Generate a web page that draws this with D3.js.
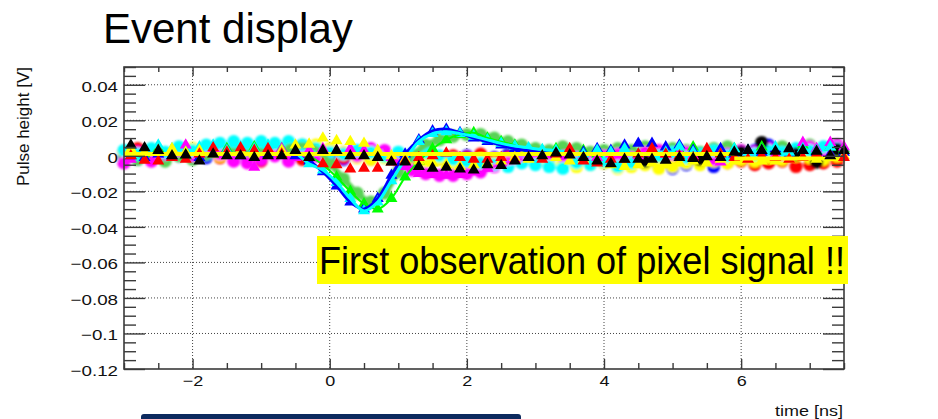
<!DOCTYPE html>
<html>
<head>
<meta charset="utf-8">
<script src="https://cdn.jsdelivr.net/npm/d3@7"></script>
<style>
  html, body { margin: 0; padding: 0; background: #fff; }
  svg { display: block; font-family: "Liberation Sans", Arial, Helvetica, sans-serif; }
</style>
</head>
<body>
<svg id="chart" width="938" height="419"></svg>
<script>
// Sample times [ns] of the triangle-marker waveforms
const timesTri = [-2.9, -2.7, -2.5, -2.3, -2.1, -1.9, -1.7, -1.5, -1.3, -1.1,
  -0.9, -0.7, -0.5, -0.3, -0.1, 0.1, 0.3, 0.5, 0.7, 0.9,
  1.1, 1.3, 1.5, 1.7, 1.9, 2.1, 2.3, 2.5, 2.7, 2.9,
  3.1, 3.3, 3.5, 3.7, 3.9, 4.1, 4.3, 4.5, 4.7, 4.9,
  5.1, 5.3, 5.5, 5.7, 5.9, 6.1, 6.3, 6.5, 6.7, 6.9,
  7.1, 7.3, 7.5];

// Sample times [ns] of the circle-marker waveforms
const timesCirc = [-3.0, -2.8, -2.6, -2.4, -2.2, -2.0, -1.8, -1.6, -1.4, -1.2,
  -1.0, -0.8, -0.6, -0.4, -0.2, 0.0, 0.2, 0.4, 0.6, 0.8,
  1.0, 1.2, 1.4, 1.6, 1.8, 2.0, 2.2, 2.4, 2.6, 2.8,
  3.0, 3.2, 3.4, 3.6, 3.8, 4.0, 4.2, 4.4, 4.6, 4.8,
  5.0, 5.2, 5.4, 5.6, 5.8, 6.0, 6.2, 6.4, 6.6, 6.8,
  7.0, 7.2, 7.4];

// Pulse heights in mV, triangle markers
const triBlack = [6, 4.5, 3, 0, 0.5, -3, 1, 0, 0, -1,
  0, 0, 3, -1, 3, 3, 0, 0, -1, -3.5,
  -3.5, -6, -7, -6.5, -7.5, -8, -5, -5.5, -3, -1,
  0, 1.5, 0.5, -1, -3, -4.5, -2, -2, -2, -2.5,
  -1, -1.5, -0.5, -1, 2, 3, 3, 2.5, 4, 3,
  2.5, 0, 3];
const triRed = [0, -2.5, -3, -1, -2, 1, 4.5, 2, 4.5, 3,
  4, 1, 2, -1, -4.5, -5, -7.5, -7, -7, -3.5,
  -3, -1, 0, 1.5, -1, -2, -2, -1, -2.5, -1,
  -2, 1, 4, -3, -4, -2, -2, 1, 4, 1,
  0, -1, 4, 1, -1, -2, 0, -1, -2, -1,
  1, 0, -1];
const triYellow = [4, 2, 3, 4, 2, 3, 1, 2, 3, 1,
  3, 3, 6, 6.5, 10, 8.5, 8, 7, 3, 0,
  -2, -3, -4, -5, -6, -5, -4, -3, -1, -2,
  0, -1, -3, -2, -3, -5, -6, -5, -4, -5,
  -4, -3, -4, -2, -3, -2, -3, -3, -2, -1,
  -2, -1, 0];
const triMagenta = [-2, 3, 1, -1, 6, 1, 3, 0, 2, -6.5,
  1, 4, -1, 3, 4, 3, 4, 3, 2, -1,
  -6, -10, -10.5, -11, -10.5, -9, -7, -4, -2, -1,
  0, 1, 3, 0, -1, 1, 2, 0, 3, 1,
  2, 0, 2, -3.5, 1, 2, 3, 1, 4, 7.5,
  4, 7.5, 5];
const triGreen = [2, 1, 4, 2, 0, 3, 1, 4, 2, 5,
  3, 4, 2, 0, -5, -12, -20, -27, -30, -24,
  -12, -3, 4, 9, 12, 13, 10, 8, 6, 4,
  3, 4, 2, 3, 1, 2, 3, 1, 4, 2,
  3, 5, 3, 2, 4, 3, 5, 3, 4, 6,
  3, 5, 4];
const triCyan = [5, 3, 6, 4, 2, 5, 6, 3, 5, 4,
  6, 3, 2, -4.5, -8, -15, -24, -31, -26, -14,
  -2, 8, 12.5, 13.5, 12.5, 11, 9, 7, 5.5, 4.5,
  3.5, 3, 2, 1, 3, 2, 4, 1, 3, 2,
  5, 2, 3, 1, 4, 2, 3, 5, 2, 4,
  3, 5, 3];
const triBlue = [0, -1, 1, 0, 2, -1, 1, 3, 0, 2,
  1, 3, 0, -3, -9, -17, -26, -30, -24, -11,
  1, 9, 14, 15, 13, 10, 8, 6, 4, 3,
  2, 1, 3, 2, 4, 3, 6, 7, 7, 5,
  6, 3, 2, 4, 1, 3, 2, 4, 1, 3,
  2, 1, 2];

// Pulse heights in mV, circle markers
const circGreen = [-3, -2, 1, -3, 0, -2, 1, 3, 4, 3,
  5, 4, 5, 6, 4, -4, -13, -21, -26, -21,
  -9, 0, 6, 9, 11, 12, 12, 10, 8, 6,
  4, 3, 5, 4, 2, 3, 4, 3, 5, 3,
  4, 3, 2, 4, 5, 3, 2, 4, 5, 3,
  6, 4, 3];
const circCyan = [3, 1, 4, 2, 5, 3, 6, 7, 8, 7,
  8, 7, 8, 6, 4, 2, 1, 3, 2, 0,
  2, 1, 2, 0, -2, -3, -4, -5, -6, -4,
  -5, -6, -7, -4, -5, -3, -6, -4, -3, 0,
  2, -1, 1, 3, 0, 2, 1, 3, 2, 4,
  3, 5, 4];
const circMagenta = [-4, 2, -3, 1, 3, 0, 4, 1, -3, -4,
  -2, 0, -3, 2, 0, 2, 1, 0, 4, 3,
  -3, -8, -10, -11, -11, -10, -9, -6, -4, -2,
  0, 1, 0, -1, -2, 0, 1, -1, 2, 3,
  1, 2, 0, -2, 1, 3, 2, 4, 1, 3,
  5, 2, 6];
const circRed = [2, 4, 0, -2, 3, 1, 4, -1, 2, 0,
  -3, 1, 3, -2, 0, 2, -1, 1, -2, 0,
  -2, -1, -3, -2, 0, -1, 1, -2, -1, 0,
  -2, 1, -1, 0, -3, -2, -4, -2, 0, -1,
  -3, -1, 0, -2, -4, -3, -5, -4, -3, -6,
  -5, -4, -3];
const circYellow = [2, 0, 3, 1, 2, 4, 1, 0, 3, 2,
  0, 2, 4, 5, 6, 4, 2, -1, -2, -1,
  0, -2, -3, -2, -4, -3, -2, -4, -3, -2,
  -3, -5, -4, -6, -5, -4, -7, -6, -5, -7,
  -6, -4, -5, -3, -4, -2, -3, -1, -2, 0,
  -1, -2, 0];
const circBlue = [0, -2, 1, -1, 0, 2, -1, 0, 1, -1,
  0, 2, 0, -1, 1, 0, -2, 0, -1, 1,
  0, -1, 0, -2, -1, 0, -2, -1, 1, 0,
  -2, -1, 0, -3, -2, -4, -3, -5, -4, -6,
  -7, -5, -4, -6, -3, -1, 3, 6, 4, 2,
  0, 3, 1];
const circBlackTimes = [4.6, 5.4, 6.0, 6.3, 6.8, 7.1, 7.4];
const circBlack = [-3, -2, 2, 7.5, 1, -3.5, 3.5];

// Flat baseline fit [mV]; null splits it into two pieces
const baseTimes = [-3.0, 5.9, 5.9, 5.9, 7.4];
const baseLevel = [1, 1, null, -1.5, -1.5];

// Axis ticks
const xTickValues = [-2, 0, 2, 4, 6];
const xTickLabels = ["\u22122", "0", "2", "4", "6"];
const yTickValues = [-0.12, -0.1, -0.08, -0.06, -0.04, -0.02, 0, 0.02, 0.04];
const yTickLabels = ["\u22120.12", "\u22120.1", "\u22120.08", "\u22120.06", "\u22120.04", "\u22120.02", "0", "0.02", "0.04"];

const svg = d3.select("#chart");
const L = 124, R = 844, T = 67, B = 369;
const x = d3.scaleLinear().domain([-3, 7.5]).range([L, R]);
const y = d3.scaleLinear().domain([-0.12, 0.05]).range([B, T]);
const mv = v => y(v / 1000);

const defs = svg.append("defs");
defs.append("filter").attr("id", "soft").attr("x", "-20%").attr("y", "-20%").attr("width", "140%").attr("height", "140%")
  .append("feGaussianBlur").attr("stdDeviation", 0.9);
defs.append("filter").attr("id", "soft2").attr("x", "-20%").attr("y", "-20%").attr("width", "140%").attr("height", "140%")
  .append("feGaussianBlur").attr("stdDeviation", 0.35);

// Dotted grid at the major ticks
const grid = svg.append("g").attr("stroke", "#444").attr("stroke-width", 1).attr("stroke-dasharray", "1,2");
grid.selectAll("line.gx").data(xTickValues).join("line")
  .attr("x1", d => x(d)).attr("x2", d => x(d)).attr("y1", T).attr("y2", B);
grid.selectAll("line.gy").data(yTickValues.filter(v => v > -0.12)).join("line")
  .attr("x1", L).attr("x2", R).attr("y1", d => y(d)).attr("y2", d => y(d));

const pairs = (ts, vs) => ts.map((t, i) => ({ t, v: vs[i] }));

function circles(layer, ts, vs, color) {
  layer.append("g").selectAll("circle").data(pairs(ts, vs)).join("circle")
    .attr("cx", d => x(d.t)).attr("cy", d => mv(d.v)).attr("r", 6.6).attr("fill", color);
}
const tri = d3.symbol().type(d3.symbolTriangle).size(62);
function triangles(layer, ts, vs, color) {
  layer.append("g").selectAll("path").data(pairs(ts, vs)).join("path")
    .attr("d", tri).attr("fill", color)
    .attr("transform", d => `translate(${x(d.t)},${mv(d.v)})`);
}
function trace(layer, ts, vs, lo, hi, color, width) {
  const pts = pairs(ts, vs).filter(d => d.t >= lo && d.t <= hi);
  layer.append("path").datum(pts)
    .attr("d", d3.line().x(d => x(d.t)).y(d => mv(d.v)).curve(d3.curveCatmullRom))
    .attr("fill", "none").attr("stroke", color).attr("stroke-width", width)
    .attr("stroke-linejoin", "round").attr("stroke-linecap", "round");
}

// Circle markers (soft)
const circLayer = svg.append("g").attr("filter", "url(#soft)");
circles(circLayer, timesCirc, circBlue, "#0000ff");
circles(circLayer, timesCirc, circRed, "#ff0000");
circles(circLayer, timesCirc, circYellow, "#ffff00");
circles(circLayer, timesCirc, circGreen, "#59d354");
circles(circLayer, timesCirc, circMagenta, "#ff00ff");
circles(circLayer, timesCirc, circCyan, "#00ffff");
circles(circLayer, circBlackTimes, circBlack, "#000000");
trace(circLayer, timesCirc, circGreen, -0.6, 3.4, "#59d354", 6);
trace(circLayer, timesCirc, circMagenta, 0.8, 2.8, "#ff00ff", 5);

// Triangle markers and pulse traces
const triLayer = svg.append("g").attr("filter", "url(#soft2)");
triangles(triLayer, timesTri, triGreen, "#00ff00");
triangles(triLayer, timesTri, triMagenta, "#ff00ff");
triangles(triLayer, timesTri, triBlue, "#0000ff");
triangles(triLayer, timesTri, triCyan, "#00ffff");
trace(triLayer, timesTri, triGreen, -0.4, 2.8, "#00ff00", 2);
trace(triLayer, timesTri, triBlue, -0.6, 3.6, "#0000ff", 3);
trace(triLayer, timesTri, triCyan, -0.6, 3.8, "#00ffff", 3);
triangles(triLayer, timesTri, triYellow, "#ffff00");
triangles(triLayer, timesTri, triRed, "#ff0000");
triLayer.append("path").datum(pairs(baseTimes, baseLevel))
  .attr("d", d3.line().defined(d => d.v !== null).x(d => x(d.t)).y(d => mv(d.v)))
  .attr("fill", "none").attr("stroke", "#ffff00").attr("stroke-width", 4);
triangles(triLayer, timesTri, triBlack, "#000000");

// Axes: ticks drawn on the inside of the frame, labels outside
const axisColor = "#3a3a3a";
function styleAxis(g) {
  g.select(".domain").remove();
  g.selectAll(".tick line").attr("stroke", axisColor).attr("stroke-width", 1.4);
}
const xMinor = d3.range(-3, 7.51, 0.5).filter(v => !xTickValues.includes(v));
const yMinor = d3.range(-120, 50.1, 5).map(v => v / 1000).filter(v => !yTickValues.some(m => Math.abs(m - v) < 1e-9));

// bottom
svg.append("g").attr("transform", `translate(0,${B})`)
  .call(d3.axisBottom(x).tickValues(xMinor).tickSize(-6).tickFormat("")).call(styleAxis);
const xAx = svg.append("g").attr("transform", `translate(0,${B})`)
  .call(d3.axisBottom(x).tickValues(xTickValues).tickSize(-10).tickFormat((d, i) => xTickLabels[i])).call(styleAxis);
xAx.selectAll("text").attr("y", 17).attr("dy", null).attr("fill", "#111")
  .attr("font-size", 15).attr("font-family", "Liberation Sans, Arial, sans-serif");
// top
svg.append("g").attr("transform", `translate(0,${T})`)
  .call(d3.axisTop(x).tickValues(xMinor).tickSize(-5).tickFormat("")).call(styleAxis);
svg.append("g").attr("transform", `translate(0,${T})`)
  .call(d3.axisTop(x).tickValues(xTickValues).tickSize(-9).tickFormat("")).call(styleAxis);
// left
svg.append("g").attr("transform", `translate(${L},0)`)
  .call(d3.axisLeft(y).tickValues(yMinor).tickSize(-12).tickFormat("")).call(styleAxis);
const yAx = svg.append("g").attr("transform", `translate(${L},0)`)
  .call(d3.axisLeft(y).tickValues(yTickValues).tickSize(-21).tickFormat((d, i) => yTickLabels[i])).call(styleAxis);
yAx.selectAll("text").attr("x", -6).attr("dy", "0.42em").attr("fill", "#111")
  .attr("font-size", 15).attr("font-family", "Liberation Sans, Arial, sans-serif");
// right
svg.append("g").attr("transform", `translate(${R},0)`)
  .call(d3.axisRight(y).tickValues(yMinor).tickSize(-12).tickFormat("")).call(styleAxis);
svg.append("g").attr("transform", `translate(${R},0)`)
  .call(d3.axisRight(y).tickValues(yTickValues).tickSize(-21).tickFormat("")).call(styleAxis);

// Tick labels are drawn slightly wide
function widen(sel, k) {
  sel.each(function () {
    const w = this.getComputedTextLength();
    d3.select(this).attr("textLength", w * k).attr("lengthAdjust", "spacingAndGlyphs");
  });
}
widen(xAx.selectAll("text"), 1.2);
widen(yAx.selectAll("text"), 1.25);

// Frame
svg.append("rect").attr("x", L).attr("y", T).attr("width", R - L).attr("height", B - T)
  .attr("fill", "none").attr("stroke", axisColor).attr("stroke-width", 1.6);

// Axis titles
const xt = svg.append("text").attr("x", 843).attr("y", 416).attr("text-anchor", "end")
  .attr("font-size", 15).attr("fill", "#111").text("time [ns]");
widen(xt, 1.2);
svg.append("text").attr("transform", "translate(28.5,67) rotate(-90)").attr("text-anchor", "end")
  .attr("font-size", 17).attr("fill", "#111").text("Pulse height [V]");

// Title
svg.append("text").attr("x", 103).attr("y", 43).attr("font-size", 42).attr("fill", "#000")
  .text("Event display");

// Highlight box
svg.append("rect").attr("x", 317).attr("y", 236).attr("width", 531).attr("height", 48).attr("fill", "#ffff00");
svg.append("text").attr("x", 319).attr("y", 273.5).attr("font-size", 39).attr("fill", "#000")
  .attr("textLength", 526).attr("lengthAdjust", "spacingAndGlyphs")
  .text("First observation of pixel signal !!");

// Navy bar at the bottom edge
svg.append("rect").attr("x", 141).attr("y", 414).attr("width", 380).attr("height", 14).attr("rx", 3)
  .attr("fill", "#0c2a5e");
</script>
</body>
</html>
